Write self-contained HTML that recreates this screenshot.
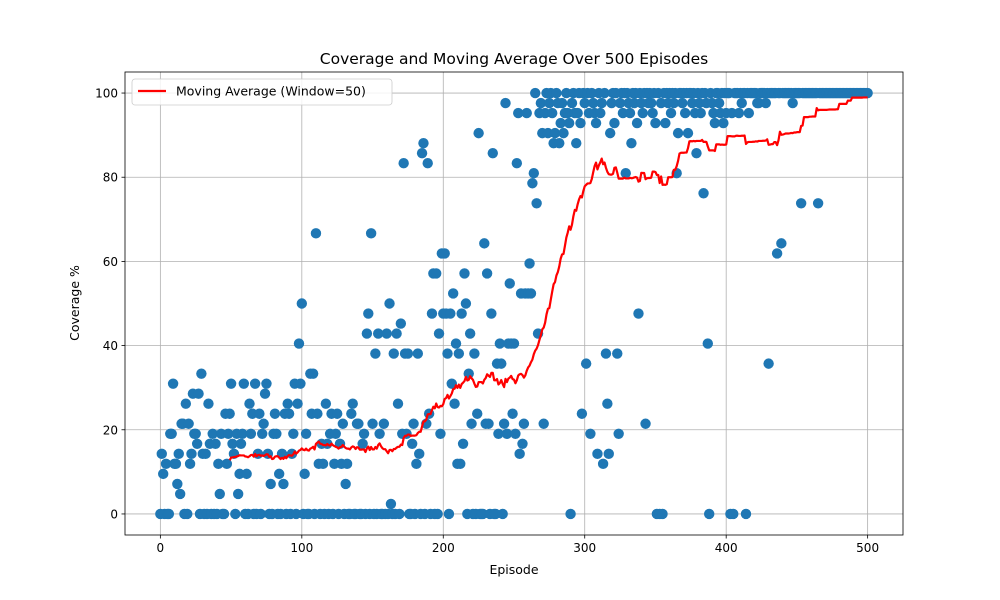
<!DOCTYPE html>
<html><head><meta charset="utf-8"><style>
body{margin:0;background:#fff;}
svg{display:block;font-family:"DejaVu Sans","Liberation Sans",sans-serif;}
</style></head><body>
<svg id="chart" width="1000" height="600" viewBox="0 0 1000 600"></svg>
<script>
const episodesCount = 500;
const coverageK = [
0,6,4,0,5,0,0,8,8,13,5,5,3,6,2,9,9,0,11,0,9,5,6,12,8,
8,7,12,0,14,6,0,6,0,11,7,0,8,0,7,0,5,2,8,0,0,10,5,8,10,
13,7,6,0,8,2,4,7,8,13,0,4,0,11,8,10,0,13,0,6,10,0,8,9,12,
13,6,0,3,0,8,10,8,0,4,0,6,3,10,0,11,10,0,6,8,13,0,11,17,13,
21,0,4,8,0,0,14,10,14,0,28,10,5,0,7,5,0,11,7,0,8,10,0,5,8,
10,0,7,5,9,0,3,5,0,0,10,11,0,0,9,9,0,0,7,8,0,18,20,0,28,
9,0,16,0,18,8,0,0,9,0,18,0,21,1,0,16,0,18,11,0,19,8,35,16,8,
16,0,0,7,9,0,5,16,6,0,36,37,0,9,35,10,0,20,24,0,24,0,18,8,26,
20,26,20,16,0,20,13,22,11,17,5,16,5,20,7,24,21,0,14,18,9,0,16,0,10,
38,0,0,0,27,9,24,9,0,20,36,0,0,15,8,17,15,0,9,41,8,17,23,17,10,
17,8,35,40,6,22,7,9,22,40,22,25,22,33,34,42,31,18,40,41,38,9,40,42,38,
41,42,40,37,38,42,41,37,39,41,38,40,42,40,39,0,41,42,40,37,40,42,39,10,42,
41,15,42,40,8,42,41,40,39,6,42,40,41,5,42,16,11,6,38,41,42,39,42,16,8,
41,42,40,42,34,42,41,40,37,42,41,42,39,20,42,41,40,42,9,42,41,42,41,40,42,
39,0,42,0,41,0,42,39,42,41,42,40,42,41,42,34,38,42,42,41,42,40,42,38,42,
42,41,42,40,36,42,41,40,42,32,42,41,17,0,42,41,40,39,42,42,41,40,42,39,42,
40,42,42,0,40,0,42,42,42,40,42,41,42,42,0,42,40,42,42,42,42,42,41,41,42,
42,42,42,41,42,15,42,42,42,42,42,26,42,42,27,42,42,42,42,42,42,42,41,42,42,
42,42,42,31,42,42,42,42,42,42,42,42,42,42,42,31,42,42,42,42,42,42,42,42,42,
42,42,42,42,42,42,42,42,42,42,42,42,42,42,42,42,42,42,42,42,42,42,42,42,42,42
];
const coverage = coverageK.map(k => k * 100 / 42);
const xTicks = [0,100,200,300,400,500];
const yTicks = [0,20,40,60,80,100];
const windowSize = 50;

const NS = "http://www.w3.org/2000/svg";
const svg = document.getElementById("chart");
const L=125,R=903,T=72,B=535;
const xmin=-25,xmax=525,ymin=-5,ymax=105;
const xs = v => L + (v - xmin) / (xmax - xmin) * (R - L);
const ys = v => B - (v - ymin) / (ymax - ymin) * (B - T);
function mk(tag, attrs, parent){
  const e = document.createElementNS(NS, tag);
  for (const k in attrs) e.setAttribute(k, attrs[k]);
  (parent || svg).appendChild(e);
  return e;
}
const grid = mk("g", {});


xTicks.forEach(t => {
  const l = mk("line", {x1:xs(t), x2:xs(t), y1:T, y2:B, stroke:"#b0b0b0", "stroke-width":0.8}, grid);
  
  
  const tk = mk("line", {x1:xs(t), x2:xs(t), y1:B, y2:B+3.5, stroke:"#000", "stroke-width":0.8});
  
  
  const tx = mk("text", {x:xs(t), y:B+17, "text-anchor":"middle", "font-size":12, fill:"#000"});
  tx.textContent = t;
  
  
});
yTicks.forEach(t => {
  const l = mk("line", {x1:L, x2:R, y1:ys(t), y2:ys(t), stroke:"#b0b0b0", "stroke-width":0.8}, grid);
  
  
  const tk = mk("line", {x1:L-3.5, x2:L, y1:ys(t), y2:ys(t), stroke:"#000", "stroke-width":0.8});
  
  
  const tx = mk("text", {x:L-7, y:ys(t)+4.5, "text-anchor":"end", "font-size":12, fill:"#000"});
  tx.textContent = t;
  
  
});
const pts = mk("g", {fill:"#1f77b4"});


coverage.forEach((v, i) => {
  const c = mk("circle", {cx:xs(i), cy:ys(v), r:5.2}, pts);
  
  
});
let d = "";
for (let i = windowSize - 1; i < coverage.length; i++) {
  let s = 0;
  for (let j = i - windowSize + 1; j <= i; j++) s += coverage[j];
  d += (d ? "L" : "M") + xs(i).toFixed(2) + "," + ys(s / windowSize).toFixed(2);
}
const ma = mk("path", {d:d, fill:"none", stroke:"red", "stroke-width":2.2, "stroke-linejoin":"round"});


const frame = mk("rect", {x:L, y:T, width:R-L, height:B-T, fill:"none", stroke:"#000", "stroke-width":0.8});


const title = mk("text", {x:(L+R)/2, y:64, "text-anchor":"middle", "font-size":15.5, fill:"#000"});
title.textContent = "Coverage and Moving Average Over 500 Episodes";


const xl = mk("text", {x:(L+R)/2, y:574, "text-anchor":"middle", "font-size":12.5, fill:"#000"});
xl.textContent = "Episode";


const yl = mk("text", {x:0, y:0, transform:"translate(79,303) rotate(-90)", "text-anchor":"middle", "font-size":12.5, fill:"#000"});
yl.textContent = "Coverage %";


const lg = mk("g", {});


mk("rect", {x:132, y:79, width:260, height:26, rx:3, fill:"#fff", "fill-opacity":0.85, stroke:"#ccc", "stroke-width":0.8}, lg);
const le = mk("line", {x1:138, x2:166, y1:91, y2:91, stroke:"red", "stroke-width":2.2}, lg);


const lt = mk("text", {x:176, y:95.5, "font-size":12.5, fill:"#000"}, lg);
lt.textContent = "Moving Average (Window=50)";


</script>
</body></html>
